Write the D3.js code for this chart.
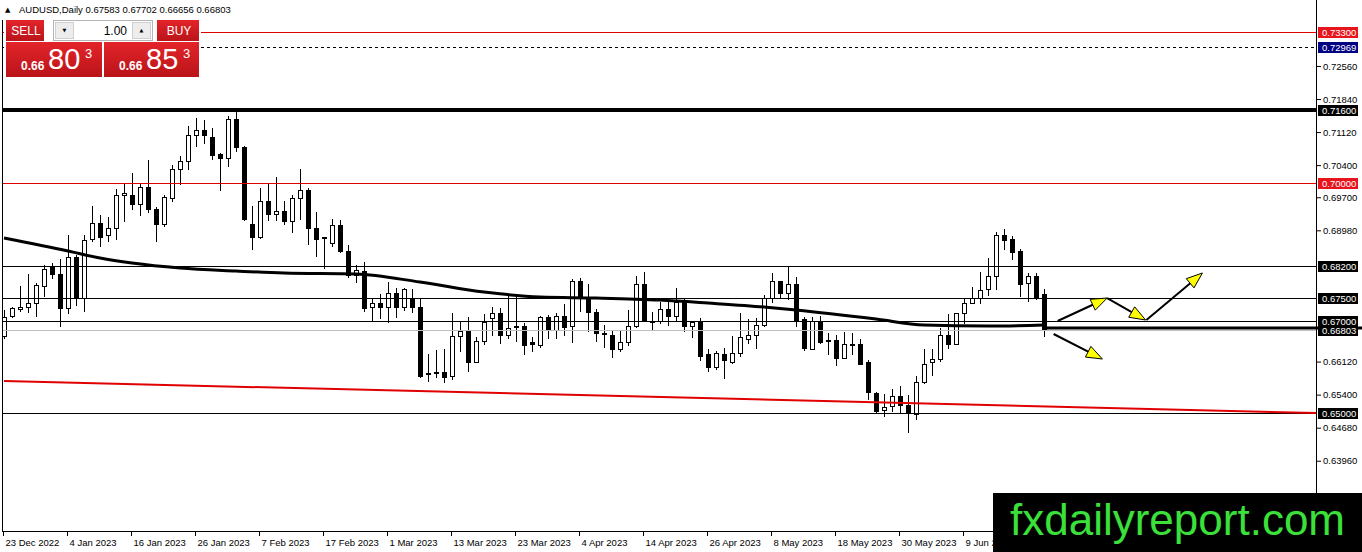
<!DOCTYPE html>
<html>
<head>
<meta charset="utf-8">
<title>AUDUSD Daily</title>
<script src="https://cdnjs.cloudflare.com/ajax/libs/d3/7.8.5/d3.min.js"></script>
<style>
    body { margin: 0; background: #fff; overflow: hidden; }
    svg { display: block; }
    .axis-text, .axis text { font-family: "Liberation Sans", Arial, sans-serif; font-size: 9.5px; fill: #000; }
</style>
</head>
<body>
<div id="chart-area"></div>
<script>
// AUDUSD daily, bar 0 = 23 Dec 2022, one bar per weekday
var symbol = "AUDUSD", period = "Daily";

var opens = [
    0.66656,0.67113,0.67244,0.67309,0.67375,0.67745,0.68159,0.68028,0.67266,0.68377,
    0.67505,0.68769,0.69118,0.68856,0.69030,0.69728,0.69749,0.69553,0.69902,0.69444,
    0.69096,0.69662,0.70294,0.70468,0.71035,0.71144,0.70991,0.70621,0.70555,0.71383,
    0.70773,0.69096,0.68813,0.69597,0.69335,0.69379,0.69161,0.69662,0.69858,0.69030,
    0.68813,0.68682,0.69074,0.68508,0.68006,0.68072,0.67288,0.67375,0.67288,0.67614,
    0.67288,0.67462,0.67309,0.65828,0.65893,0.65893,0.65806,0.66656,0.66808,0.66111,
    0.66547,0.67048,0.67157,0.66678,0.66874,0.66874,0.66525,0.66481,0.67091,0.66808,
    0.67113,0.66895,0.67854,0.67505,0.67200,0.66721,0.66678,0.66394,0.66525,0.66895,
    0.67810,0.67004,0.67004,0.67244,0.67113,0.67418,0.66895,0.66983,0.66264,0.66002,
    0.66285,0.66111,0.66307,0.66612,0.66699,0.66917,0.67484,0.67854,0.67614,0.67789,
    0.67026,0.66394,0.67004,0.66547,0.66590,0.66198,0.66460,0.66503,0.66111,0.65414,
    0.65044,0.65131,0.65370,0.65153,0.64978,0.65654,0.66111,0.66176,0.66699,0.66503,
    0.67157,0.67396,0.67484,0.67680,0.67963,0.68856,0.68769,0.68508,0.67832,0.67963,
    0.67583];
var highs = [
    0.67244,0.67309,0.67767,0.68028,0.67832,0.68224,0.68268,0.68355,0.68878,0.68442,
    0.68878,0.69510,0.69314,0.69270,0.69880,0.69989,0.70229,0.69989,0.70512,0.69488,
    0.69749,0.70403,0.70599,0.71253,0.71427,0.71383,0.71209,0.70664,0.71470,0.71579,
    0.70817,0.69510,0.69902,0.69989,0.70142,0.69619,0.69749,0.70316,0.69902,0.69379,
    0.68834,0.69226,0.69205,0.68660,0.68224,0.68290,0.67505,0.67593,0.67854,0.67723,
    0.67723,0.67701,0.67484,0.66285,0.66372,0.66394,0.67179,0.66983,0.67091,0.66656,
    0.67157,0.67309,0.67288,0.67593,0.67571,0.66961,0.66656,0.67113,0.67135,0.67179,
    0.67375,0.67919,0.67941,0.67810,0.67266,0.66917,0.66808,0.66808,0.67244,0.67985,
    0.68072,0.67200,0.67418,0.67440,0.67723,0.67505,0.66983,0.67070,0.66394,0.66351,
    0.66416,0.66678,0.67179,0.67048,0.67070,0.67571,0.68050,0.67876,0.68203,0.67963,
    0.67091,0.67091,0.67113,0.66743,0.66699,0.66765,0.66743,0.66612,0.66155,0.65458,
    0.65414,0.65523,0.65588,0.65392,0.65806,0.66394,0.66394,0.66852,0.67157,0.67179,
    0.67505,0.67745,0.68072,0.68377,0.68943,0.69009,0.68856,0.68573,0.68050,0.68050,
    0.67702];
var lows = [
    0.66612,0.67070,0.67200,0.67179,0.67091,0.67527,0.67919,0.66874,0.67157,0.67331,
    0.67200,0.68725,0.68616,0.68725,0.68769,0.69161,0.69423,0.69292,0.69357,0.68725,
    0.69052,0.69597,0.69967,0.70294,0.70795,0.70860,0.70512,0.69836,0.70359,0.70686,
    0.69183,0.68551,0.68791,0.69183,0.69183,0.69096,0.68921,0.69205,0.68660,0.68399,
    0.68137,0.68616,0.68486,0.67941,0.67832,0.67200,0.66983,0.67048,0.66961,0.67070,
    0.67222,0.67179,0.65763,0.65675,0.65763,0.65654,0.65719,0.66329,0.65893,0.66089,
    0.66481,0.66678,0.66503,0.66612,0.66547,0.66264,0.66329,0.66416,0.66612,0.66612,
    0.66678,0.66525,0.67200,0.66765,0.66547,0.66416,0.66198,0.66329,0.66460,0.66852,
    0.66983,0.66786,0.66939,0.66895,0.66983,0.66765,0.66634,0.66133,0.65893,0.65937,
    0.65741,0.66067,0.66220,0.66503,0.66394,0.66874,0.67396,0.67484,0.67462,0.66874,
    0.66351,0.66372,0.66503,0.66264,0.66024,0.66176,0.66264,0.66046,0.65283,0.65000,
    0.64913,0.65022,0.65000,0.64564,0.64847,0.65632,0.65806,0.66111,0.66394,0.66481,
    0.66939,0.67375,0.67375,0.67549,0.67680,0.68551,0.68333,0.67527,0.67418,0.67462,
    0.66656];
var closes = [
    0.67091,0.67266,0.67309,0.67375,0.67767,0.68137,0.68028,0.67266,0.68377,0.67505,
    0.68747,0.69118,0.68834,0.69030,0.69728,0.69771,0.69553,0.69902,0.69444,0.69096,
    0.69684,0.70294,0.70468,0.71035,0.71165,0.71035,0.70599,0.70555,0.71383,0.70773,
    0.69205,0.68813,0.69597,0.69335,0.69379,0.69161,0.69662,0.69858,0.69030,0.68769,
    0.68800,0.69074,0.68508,0.67985,0.68094,0.67266,0.67375,0.67288,0.67614,0.67288,
    0.67680,0.67288,0.65806,0.65871,0.65871,0.65784,0.66656,0.66786,0.66111,0.66547,
    0.66961,0.67157,0.66678,0.66830,0.66852,0.66460,0.66503,0.67091,0.66808,0.67113,
    0.66852,0.67854,0.67505,0.67200,0.66721,0.66721,0.66394,0.66525,0.66895,0.67810,
    0.67004,0.66983,0.67244,0.67113,0.67418,0.66874,0.66961,0.66220,0.66002,0.66307,
    0.66133,0.66307,0.66634,0.66699,0.66917,0.67484,0.67854,0.67614,0.67789,0.67004,
    0.66416,0.66983,0.66525,0.66590,0.66198,0.66503,0.66503,0.66067,0.65436,0.65022,
    0.65109,0.65370,0.65153,0.65000,0.65654,0.66067,0.66155,0.66699,0.66503,0.67157,
    0.67396,0.67484,0.67658,0.67963,0.68856,0.68747,0.68486,0.67810,0.67963,0.67527,
    0.66803];

var maBars = [0, 8, 12, 16, 22, 29, 35, 44, 52, 60, 67, 74, 82, 88, 95, 99, 109, 115, 123, 130];
var maValues = [0.68812, 0.68529, 0.68376, 0.68267, 0.68158, 0.68093, 0.68049, 0.68028, 0.67853, 0.67636,
    0.67527, 0.67505, 0.67461, 0.67396, 0.67309, 0.67243, 0.67047, 0.66917, 0.66895, 0.66917];

var trendBars = [0, 164];
var trendValues = [0.65697, 0.65000];

var dateTickBars = [0, 8, 16, 24, 32, 40, 48, 56, 64, 72, 80, 88, 96, 104, 112, 120];
var dateTickLabels = ["23 Dec 2022", "4 Jan 2023", "16 Jan 2023", "26 Jan 2023", "7 Feb 2023", "17 Feb 2023",
    "1 Mar 2023", "13 Mar 2023", "23 Mar 2023", "4 Apr 2023", "14 Apr 2023", "26 Apr 2023",
    "8 May 2023", "18 May 2023", "30 May 2023", "9 Jun 2023"];
var priceTicks = [0.7256, 0.7184, 0.7112, 0.7040, 0.6970, 0.6898, 0.6612, 0.6540, 0.6468, 0.6396];

var redLevels = [0.733, 0.700];
var blackLevels = [0.682, 0.675, 0.670, 0.650];
var keyLevel = 0.716;
var askLine = 0.72969;
var bidLine = 0.66803;
var rayLevel = 0.66852;
var sellQuote = "0.66803", buyQuote = "0.66853", lotSize = "1.00";

// scenario arrows [bar, price]
var arrowStarts = [[131.7, 0.67004], [137.9, 0.67505], [142.8, 0.67026], [131.2, 0.66721]];
var arrowEnds = [[137.9, 0.67505], [142.7, 0.67026], [149.8, 0.68050], [137.3, 0.66176]];


CandleChart = function(_parentElement){
    this.parentElement = _parentElement;
    this.data = opens.map(function(o, i){
        return {bar: i, open: o, high: highs[i], low: lows[i], close: closes[i]};
    });

    this.initVis();
};

CandleChart.prototype.initVis = function(){
    var vis = this;
    vis.width = 1362;
    vis.height = 552;
    vis.frame = {left: 2, right: 1316, bottom: 531};

    vis.svg = d3.select("#" + vis.parentElement).append("svg")
        .attr("width", vis.width)
        .attr("height", vis.height);

    vis.svg.append("rect")
        .attr("width", vis.width)
        .attr("height", vis.height)
        .attr("fill", "#fff");

    // 8px per bar, the plot's right edge falls on bar 164
    vis.xScale = d3.scaleLinear()
        .domain([0, 164])
        .range([4, vis.frame.right]);

    vis.yScale = d3.scaleLinear()
        .domain([0.65, 0.733])
        .range([413, 32]);

    vis.plot = vis.svg.append("g");

    vis.updateChart();
    vis.drawAxes();
    vis.drawPanel();
};

CandleChart.prototype.updateChart = function(){
    var vis = this;
    var g = vis.plot;
    var x0 = vis.frame.left + 1, x1 = vis.frame.right;

    // candles
    var candle = g.selectAll(".candle")
        .data(vis.data)
        .enter().append("g")
        .attr("class", "candle")
        .attr("shape-rendering", "crispEdges");

    candle.append("line")
        .attr("x1", function(d){ return Math.round(vis.xScale(d.bar)) + 0.5; })
        .attr("x2", function(d){ return Math.round(vis.xScale(d.bar)) + 0.5; })
        .attr("y1", function(d){ return vis.yScale(d.high); })
        .attr("y2", function(d){ return vis.yScale(d.low); })
        .attr("stroke", "#000");

    candle.append("rect")
        .attr("x", function(d){ return Math.round(vis.xScale(d.bar)) - 1.5; })
        .attr("y", function(d){ return vis.yScale(Math.max(d.open, d.close)); })
        .attr("width", 4)
        .attr("height", function(d){
            return Math.max(1, Math.abs(vis.yScale(d.open) - vis.yScale(d.close)));
        })
        .attr("fill", function(d){ return d.close >= d.open ? "#fff" : "#000"; })
        .attr("stroke", "#000");

    var hline = function(value, color, width, dash){
        g.append("line")
            .attr("x1", x0)
            .attr("x2", x1)
            .attr("y1", vis.yScale(value))
            .attr("y2", vis.yScale(value))
            .attr("stroke", color)
            .attr("stroke-width", width)
            .attr("stroke-dasharray", dash || null)
            .attr("shape-rendering", "crispEdges");
    };

    hline(bidLine, "#c0c0c0", 1);
    blackLevels.forEach(function(v){ hline(v, "#000", 1); });
    redLevels.forEach(function(v){ hline(v, "#e00000", 1); });
    hline(askLine, "#000", 1, "3,3");
    hline(keyLevel, "#000", 4);

    // red trend line
    var line = d3.line()
        .x(function(d){ return vis.xScale(d[0]); })
        .y(function(d){ return vis.yScale(d[1]); });

    g.append("path")
        .datum(d3.zip(trendBars, trendValues))
        .attr("d", line)
        .attr("fill", "none")
        .attr("stroke", "#e00000")
        .attr("stroke-width", 2);

    // moving average
    g.append("path")
        .datum(d3.zip(maBars, maValues))
        .attr("d", line.curve(d3.curveMonotoneX))
        .attr("fill", "none")
        .attr("stroke", "#000")
        .attr("stroke-width", 3);
    line.curve(d3.curveLinear);

    // thick ray from the last bar
    g.append("line")
        .attr("x1", vis.xScale(vis.data.length - 1))
        .attr("x2", vis.width)
        .attr("y1", vis.yScale(rayLevel))
        .attr("y2", vis.yScale(rayLevel))
        .attr("stroke", "#000")
        .attr("stroke-width", 3);

    // arrows
    var arrows = d3.zip(arrowStarts, arrowEnds).map(function(a){
        var sx = vis.xScale(a[0][0]), sy = vis.yScale(a[0][1]);
        var ex = vis.xScale(a[1][0]), ey = vis.yScale(a[1][1]);
        var len = Math.sqrt((ex - sx) * (ex - sx) + (ey - sy) * (ey - sy));
        return {sx: sx, sy: sy, ex: ex, ey: ey, ux: (ex - sx) / len, uy: (ey - sy) / len};
    });

    var arrow = g.selectAll(".arrow")
        .data(arrows)
        .enter().append("g")
        .attr("class", "arrow");

    arrow.append("line")
        .attr("x1", function(d){ return d.sx; })
        .attr("y1", function(d){ return d.sy; })
        .attr("x2", function(d){ return d.ex - d.ux * 10; })
        .attr("y2", function(d){ return d.ey - d.uy * 10; })
        .attr("stroke", "#000")
        .attr("stroke-width", 2);

    arrow.append("path")
        .attr("d", function(d){
            var bx = d.ex - d.ux * 16, by = d.ey - d.uy * 16;
            var px = -d.uy * 6, py = d.ux * 6;
            return "M" + d.ex + "," + d.ey +
                "L" + (bx + px) + "," + (by + py) +
                "L" + (bx - px) + "," + (by - py) + "Z";
        })
        .attr("fill", "#ffff00")
        .attr("stroke", "#000")
        .attr("stroke-width", 1);
};

CandleChart.prototype.drawAxes = function(){
    var vis = this;
    var f = vis.frame;
    var fmt = d3.format(".5f");

    var frame = vis.svg.append("g").attr("shape-rendering", "crispEdges").attr("stroke", "#000");
    frame.append("line").attr("x1", f.left + 0.5).attr("x2", f.left + 0.5).attr("y1", 20).attr("y2", f.bottom + 0.5);
    frame.append("line").attr("x1", f.right + 0.5).attr("x2", f.right + 0.5).attr("y1", 0).attr("y2", f.bottom + 0.5);
    frame.append("line").attr("x1", f.left).attr("x2", f.right + 1).attr("y1", f.bottom + 0.5).attr("y2", f.bottom + 0.5);

    // price axis
    var yAxis = d3.axisRight(vis.yScale)
        .tickValues(priceTicks)
        .tickFormat(fmt)
        .tickSize(4)
        .tickSizeOuter(0);

    var yg = vis.svg.append("g")
        .attr("class", "axis")
        .attr("transform", "translate(" + (f.right + 1) + ",0)")
        .call(yAxis);
    yg.select(".domain").remove();
    yg.selectAll("text").attr("x", 6);

    // price boxes
    var boxes = [{v: bidLine, fill: "#000"}, {v: askLine, fill: "#000080"}];
    redLevels.forEach(function(v){ boxes.push({v: v, fill: "#e8141c"}); });
    boxes.push({v: keyLevel, fill: "#000"});
    blackLevels.forEach(function(v){ boxes.push({v: v, fill: "#000"}); });

    var box = vis.svg.selectAll(".price-box")
        .data(boxes)
        .enter().append("g")
        .attr("class", "price-box");

    box.append("rect")
        .attr("x", f.right + 2)
        .attr("y", function(d){ return Math.round(vis.yScale(d.v)) - 5; })
        .attr("width", 40)
        .attr("height", 11)
        .attr("fill", function(d){ return d.fill; });

    box.append("text")
        .attr("class", "axis-text")
        .attr("x", f.right + 6)
        .attr("y", function(d){ return Math.round(vis.yScale(d.v)) + 4; })
        .style("fill", "#fff")
        .text(function(d){ return fmt(d.v); });

    // date axis
    var xAxis = d3.axisBottom(vis.xScale)
        .tickValues(dateTickBars)
        .tickFormat(function(d, i){ return dateTickLabels[i]; })
        .tickSize(4)
        .tickSizeOuter(0);

    var xg = vis.svg.append("g")
        .attr("class", "axis")
        .attr("transform", "translate(-1," + (f.bottom + 1) + ")")
        .call(xAxis);
    xg.select(".domain").remove();
    xg.selectAll("text")
        .attr("text-anchor", "start")
        .attr("x", 2);
};

CandleChart.prototype.drawPanel = function(){
    var vis = this;
    var last = vis.data[vis.data.length - 1];
    var fmt = d3.format(".5f");

    // header
    vis.svg.append("text")
        .attr("x", 5)
        .attr("y", 12)
        .style("font-family", "DejaVu Sans")
        .style("font-size", "7px")
        .text("\u25B2");

    vis.svg.append("text")
        .attr("class", "axis-text")
        .attr("x", 19)
        .attr("y", 13)
        .text(symbol + "," + period + "  " + [last.open, last.high, last.low, last.close].map(fmt).join(" "));

    // one-click trading panel
    var defs = vis.svg.append("defs");
    var grad = defs.append("linearGradient")
        .attr("id", "quoteRed")
        .attr("x1", 0).attr("y1", 0).attr("x2", 0).attr("y2", 1);
    grad.append("stop").attr("offset", "0%").attr("stop-color", "#e3242a");
    grad.append("stop").attr("offset", "100%").attr("stop-color", "#b91419");

    var panel = vis.svg.append("g");
    panel.append("rect")
        .attr("x", 4).attr("y", 18)
        .attr("width", 197).attr("height", 61)
        .attr("fill", "#fff");

    [{x: 6, w: 38, label: "SELL"}, {x: 157, w: 42, label: "BUY"}].forEach(function(b){
        panel.append("rect")
            .attr("x", b.x).attr("y", 20)
            .attr("width", b.w).attr("height", 21)
            .attr("fill", "url(#quoteRed)");
        panel.append("text")
            .attr("x", b.x + b.w / 2 + 1)
            .attr("y", 35)
            .attr("text-anchor", "middle")
            .style("font-family", "Liberation Sans")
            .style("font-size", "12px")
            .style("fill", "#fff")
            .text(b.label);
    });

    panel.append("rect")
        .attr("x", 53.5).attr("y", 20.5)
        .attr("width", 99).attr("height", 20)
        .attr("fill", "#fff")
        .attr("stroke", "#b4b4b4");

    [{x: 55, glyph: "\u25BC"}, {x: 132, glyph: "\u25B2"}].forEach(function(b){
        panel.append("rect")
            .attr("x", b.x + 0.5).attr("y", 22.5)
            .attr("width", 18).attr("height", 16)
            .attr("fill", "#ededed")
            .attr("stroke", "#cfcfcf");
        panel.append("text")
            .attr("x", b.x + 9.5)
            .attr("y", 32)
            .attr("text-anchor", "middle")
            .style("font-family", "DejaVu Sans")
            .style("font-size", "5px")
            .text(b.glyph);
    });

    panel.append("text")
        .attr("x", 127)
        .attr("y", 35)
        .attr("text-anchor", "end")
        .style("font-family", "Liberation Sans")
        .style("font-size", "12px")
        .text(lotSize);

    [{x: 6, quote: sellQuote}, {x: 104, quote: buyQuote}].forEach(function(q){
        panel.append("rect")
            .attr("x", q.x).attr("y", 42)
            .attr("width", q.x === 6 ? 96 : 95).attr("height", 35)
            .attr("fill", "url(#quoteRed)");
        panel.append("text")
            .attr("x", q.x + 15).attr("y", 70)
            .style("font-family", "Liberation Sans")
            .style("font-size", "12px")
            .style("font-weight", "bold")
            .style("fill", "#fff")
            .text(q.quote.slice(0, 4));
        panel.append("text")
            .attr("x", q.x + 42).attr("y", 69)
            .style("font-family", "Liberation Sans")
            .style("font-size", "29px")
            .style("fill", "#fff")
            .text(q.quote.slice(4, 6));
        panel.append("text")
            .attr("x", q.x + 79).attr("y", 58)
            .style("font-family", "Liberation Sans")
            .style("font-size", "13px")
            .style("fill", "#fff")
            .text(q.quote.slice(6));
    });

    // watermark
    vis.svg.append("rect")
        .attr("x", 993).attr("y", 493)
        .attr("width", 369).attr("height", 59)
        .attr("fill", "#000");
    vis.svg.append("text")
        .attr("x", 1010).attr("y", 535)
        .style("font-family", "Liberation Sans")
        .style("font-size", "44px")
        .style("fill", "#3be03b")
        .text("fxdailyreport.com");
};

var chart = new CandleChart("chart-area");
</script>
</body>
</html>
